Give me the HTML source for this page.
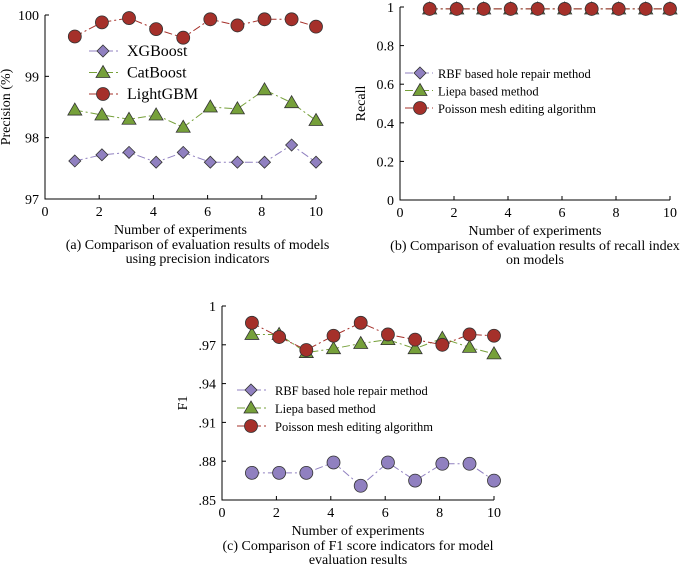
<!DOCTYPE html>
<html><head><meta charset="utf-8"><style>
body{margin:0;background:#fff}
svg{display:block;font-family:"Liberation Serif",serif}
svg text{font-family:"Liberation Serif",serif}
</style></head><body>
<svg id="s" width="685" height="566" viewBox="0 0 685 566"></svg>
<script>
const expsA=[1,2,3,4,5,6,7,8,9,10];
const xgb=[97.62,97.72,97.76,97.6,97.76,97.6,97.6,97.6,97.88,97.6];
const cat=[98.45,98.37,98.3,98.37,98.17,98.5,98.47,98.78,98.57,98.28];
const lgbm=[99.65,99.88,99.95,99.77,99.63,99.93,99.83,99.93,99.93,99.81];
const rbfRecall=[0.99,0.99,0.99,0.99,0.99,0.99,0.99,0.99,0.99,0.99];
const liepaRecall=[0.99,0.99,0.99,0.99,0.99,0.99,0.99,0.99,0.99,0.99];
const poissonRecall=[0.99,0.99,0.99,0.99,0.99,0.99,0.99,0.99,0.99,0.99];
const rbfF1=[0.871,0.871,0.871,0.879,0.861,0.879,0.865,0.878,0.878,0.865];
const liepaF1=[0.978,0.978,0.964,0.967,0.971,0.974,0.967,0.975,0.968,0.963];
const poissonF1=[0.987,0.976,0.966,0.977,0.987,0.978,0.974,0.970,0.978,0.977];
const xTicks=[0,2,4,6,8,10];
const yTicksA=[97,98,99,100];
const yTicksB=[0,0.2,0.4,0.6,0.8,1];
const yTicksC=[0.85,0.88,0.91,0.94,0.97,1];
const yLabC=[".85",".88",".91",".94",".97","1"];
const yLabB=["0","0.2","0.4","0.6","0.8","1"];

const NS="http://www.w3.org/2000/svg";
const svg=document.getElementById('s');
const FF='Liberation Serif, serif';
function el(t,a,p){const e=document.createElementNS(NS,t);for(const k in a)e.setAttribute(k,a[k]);if(t==='text')e.setAttribute('font-family',FF);(p||svg).appendChild(e);return e;}
const C={p:"#9080c0",g:"#76a03a",r:"#a5302a"};
function marker(g,type,x,y,col){
  let m;
  if(type==='d')m=el('polygon',{points:`${x},${y-6} ${x+6},${y} ${x},${y+6} ${x-6},${y}`,fill:col,stroke:'#333','stroke-width':0.8},g);
  else if(type==='t')m=el('polygon',{points:`${x},${y-7} ${x+7},${y+5} ${x-7},${y+5}`,fill:col,stroke:'#333','stroke-width':0.8},g);
  else m=el('circle',{cx:x,cy:y,r:6.5,fill:col,stroke:'#333','stroke-width':0.8},g);
  
  
}
function chart(o){
  const g=el('g',{});
  
  
  const sx=v=>o.x0+(v-0)/10*(o.x1-o.x0);
  const sy=v=>o.y0+(v-o.ymin)/(o.ymax-o.ymin)*(o.y1-o.y0);
  const ax=el('path',{d:`M${o.x0},${sy(o.ymax)}V${o.y0}H${o.x1}`,fill:'none',stroke:'#000','stroke-width':1},g);
  
  xTicks.forEach(t=>{el('line',{x1:sx(t),x2:sx(t),y1:o.y0,y2:o.y0-4,stroke:'#000'},g);
    const tx=el('text',{x:sx(t),y:o.y0+17,'text-anchor':'middle','font-size':14},g);tx.textContent=t;
    });
  o.yt.forEach((t,i)=>{el('line',{x1:o.x0,x2:o.x0+4,y1:sy(t),y2:sy(t),stroke:'#000'},g);
    const tx=el('text',{x:o.x0-6,y:sy(t)+5,'text-anchor':'end','font-size':14},g);tx.textContent=o.yl[i];
    });
  const yt=el('text',{transform:`translate(${o.x0-35},${(o.y0+sy(o.ymax))/2}) rotate(-90)`,'text-anchor':'middle','font-size':14},g);yt.textContent=o.ytitle;
  
  const xt=el('text',{x:(o.x0+o.x1)/2,y:o.y0+35,'text-anchor':'middle','font-size':14},g);xt.textContent='Number of experiments';
  
  o.cap.forEach((c,i)=>{const t=el('text',{x:(o.x0+o.x1)/2+o.capdx,y:o.y0+50+i*14,'text-anchor':'middle','font-size':14},g);t.textContent=c;
    });
  o.series.forEach(s=>{
    const xs=expsA.map((v,i)=>v+(i<9?0.1:0));
    const pl=el('polyline',{points:s.d.map((v,i)=>sx(xs[i])+','+sy(v)).join(' '),fill:'none',stroke:s.c,'stroke-width':1,'stroke-dasharray':'8 3 2 3'},g);
    
    s.d.forEach((v,i)=>marker(g,s.m,sx(xs[i]),sy(v),s.c));
  });
  o.series.forEach((s,i)=>{
    const lx=o.lx,ly=o.ly+i*o.lsp;
    const lg=el('g',{},g);
    
    el('line',{x1:lx,x2:lx+o.llen,y1:ly,y2:ly,stroke:s.c,'stroke-dasharray':'8 3 2 3'},lg);
    marker(lg,s.lm||s.m,lx+o.lmx,ly,s.c);
    const t=el('text',{x:lx+o.ltx,y:ly+5,'font-size':o.lfs},lg);t.textContent=s.n;
  });
}
chart({name:'precision-chart',x0:45,x1:316,y0:199,y1:15,ymin:97,ymax:100,yt:yTicksA,yl:yTicksA.map(String),ytitle:'Precision (%)',
  cap:['(a) Comparison of evaluation results of models','using precision indicators'],capdx:17,
  lx:89,ly:51,lsp:21.5,llen:32,lmx:14,ltx:38,lfs:16,
  series:[{n:'XGBoost',d:xgb,c:C.p,m:'d'},{n:'CatBoost',d:cat,c:C.g,m:'t'},{n:'LightGBM',d:lgbm,c:C.r,m:'c'}]});
chart({name:'recall-chart',x0:400,x1:670,y0:200,y1:7,ymin:0,ymax:1,yt:yTicksB,yl:yLabB,ytitle:'Recall',
  cap:['(b) Comparison of evaluation results of recall index','on models'],capdx:0,
  lx:405,ly:73,lsp:17.5,llen:28,lmx:15,ltx:33,lfs:12.5,
  series:[{n:'RBF based hole repair method',d:rbfRecall,c:C.p,m:'d'},{n:'Liepa based method',d:liepaRecall,c:C.g,m:'t'},{n:'Poisson mesh editing algorithm',d:poissonRecall,c:C.r,m:'c'}]});
chart({name:'f1-chart',x0:222,x1:494,y0:500,y1:306,ymin:0.85,ymax:1,yt:yTicksC,yl:yLabC,ytitle:'F1',
  cap:['(c) Comparison of F1 score indicators for model','evaluation results'],capdx:0,
  lx:237,ly:390,lsp:18,llen:30,lmx:14,ltx:38,lfs:12.5,
  series:[{n:'RBF based hole repair method',d:rbfF1,c:C.p,m:'c',lm:'d'},{n:'Liepa based method',d:liepaF1,c:C.g,m:'t'},{n:'Poisson mesh editing algorithm',d:poissonF1,c:C.r,m:'c'}]});
</script>
</body></html>
